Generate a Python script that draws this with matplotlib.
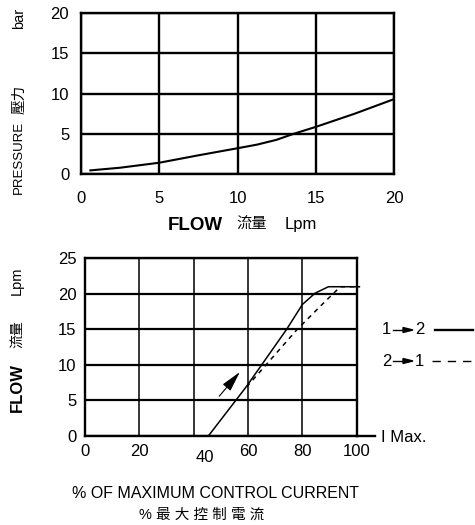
import matplotlib
matplotlib.use("Agg")
import matplotlib.pyplot as plt

plt.rcParams['font.family'] = ['Liberation Sans', 'Noto Sans CJK TC', 'DejaVu Sans']

# ---- data: top chart (pressure drop vs flow)
flow_top = [0.6, 2.5, 5, 7.5, 10, 11.25, 12.5, 13.6, 15, 17.5, 20]
pressure_top = [0.45, 0.78, 1.4, 2.32, 3.2, 3.65, 4.25, 5.0, 5.85, 7.5, 9.3]
top_xticks = [0, 5, 10, 15, 20]
top_yticks = [0, 5, 10, 15, 20]

# ---- data: bottom chart (flow vs control current)
current_12 = [45.4, 59.3, 65, 74.2, 80, 84.7, 89.6, 101]
flow_12 = [0, 6.9, 10, 15, 18.5, 20.1, 21, 21]
current_21 = [59.5, 66.6, 78.1, 88.3, 94, 101]
flow_21 = [6.9, 10, 15, 18.9, 21, 21]
bot_xticks = [0, 20, 40, 60, 80, 100]
bot_xticklabels = ['0', '20', '', '60', '80', '100']
bot_yticks = [0, 5, 10, 15, 20, 25]
arrow_start = (49.4, 5.6)
arrow_end = (57.0, 9.0)

W, H = 475, 525
fig = plt.figure(figsize=(W / 100, H / 100), dpi=100)

def fx(px):
    return px / W

def fy(py):
    return 1 - py / H

# ---------------- top axes
ax1 = fig.add_axes([fx(81), fy(174), fx(394) - fx(81), fy(13) - fy(174)])
ax1.plot(flow_top, pressure_top, color='black', lw=1.5)
ax1.set_xlim(0, 20)
ax1.set_ylim(0, 20)
ax1.set_xticks(top_xticks)
ax1.set_yticks(top_yticks)
ax1.grid(True, color='black', lw=1.7)
for s in ax1.spines.values():
    s.set_linewidth(1.7)
ax1.tick_params(axis='x', length=0, pad=12.5, labelsize=12)
ax1.tick_params(axis='y', length=0, pad=8.5, labelsize=12)

# top y label pieces
fig.text(fx(19), fy(157), 'PRESSURE', rotation=90, ha='center', va='center', fontsize=9.5)
fig.text(fx(19), fy(99), '壓力', rotation=90, ha='center', va='center', fontsize=10.5)
fig.text(fx(19), fy(18), 'bar', rotation=90, ha='center', va='center', fontsize=10.5)

# top x label pieces
fig.text(fx(168), fy(225), 'FLOW', ha='left', va='center', fontsize=13.5, fontweight='bold')
fig.text(fx(236), fy(225), '流量', ha='left', va='center', fontsize=11)
fig.text(fx(285), fy(225), 'Lpm', ha='left', va='center', fontsize=12)

# ---------------- bottom axes
ax2 = fig.add_axes([fx(85), fy(436), fx(356.7) - fx(85), fy(258.3) - fy(436)])
ax2.plot(current_12, flow_12, color='black', lw=1.1, clip_on=False)
ax2.plot(current_21, flow_21, color='black', lw=1.1, ls=(0, (3, 3)), clip_on=False)
ax2.annotate('', xy=arrow_end, xytext=arrow_start,
             arrowprops=dict(arrowstyle='-|>,head_length=0.9,head_width=0.22', color='black', lw=0.8,
                             mutation_scale=14, shrinkA=0, shrinkB=0))
ax2.set_xlim(0, 100)
ax2.set_ylim(0, 25)
ax2.set_xticks(bot_xticks)
ax2.set_xticklabels(bot_xticklabels)
ax2.set_yticks(bot_yticks)
ax2.xaxis.grid(True, color='black', lw=1.1)
ax2.yaxis.grid(True, color='black', lw=1.6)
for s in ax2.spines.values():
    s.set_linewidth(1.7)
ax2.tick_params(axis='x', length=0, pad=5.8, labelsize=12)
ax2.tick_params(axis='y', length=0, pad=6, labelsize=12)
# displaced "40" label
ax2.annotate('40', xy=(40, 0), xytext=(11, -14), textcoords='offset pixels',
             ha='center', va='top', fontsize=12)
# extended baseline and I Max.
ax2.plot([100, 106.8], [0, 0], color='black', lw=1.7, clip_on=False)
fig.text(fx(381), fy(438), 'I Max.', ha='left', va='center', fontsize=12)

# bottom y label pieces
fig.text(fx(17), fy(387), 'FLOW', rotation=90, ha='center', va='center', fontsize=12, fontweight='bold')
fig.text(fx(17), fy(334), '流量', rotation=90, ha='center', va='center', fontsize=10)
fig.text(fx(17), fy(281), 'Lpm', rotation=90, ha='center', va='center', fontsize=10.5)

# bottom x labels
fig.text(fx(216), fy(493), '% OF MAXIMUM CONTROL CURRENT', ha='center', va='center', fontsize=11.5)
fig.text(fx(202), fy(515), '% 最 大 控 制 電 流', ha='center', va='center', fontsize=10.5)

# legend
legend_rows = [('1', '2', 330, 'solid'), ('2', '1', 361, 'dashed')]
for a, b, ypx, style in legend_rows:
    fig.text(fx(382), fy(ypx), a, ha='left', va='center', fontsize=12)
    fig.text(fx(415), fy(ypx), b, ha='left', va='center', fontsize=12)
    fig.add_artist(plt.Line2D([fx(393), fx(405)], [fy(ypx), fy(ypx)], color='black', lw=1.0))
    fig.add_artist(plt.Polygon([[fx(403), fy(ypx - 2.5)], [fx(413), fy(ypx)], [fx(403), fy(ypx + 2.5)]],
                               closed=True, color='black'))
fig.add_artist(plt.Line2D([fx(435), fx(473)], [fy(329.5), fy(329.5)], color='black', lw=1.7))
fig.add_artist(plt.Line2D([fx(432), fx(473)], [fy(361), fy(361)], color='black', lw=1.0,
                          ls=(0, (6, 5))))

fig.savefig('out.png', dpi=100)
